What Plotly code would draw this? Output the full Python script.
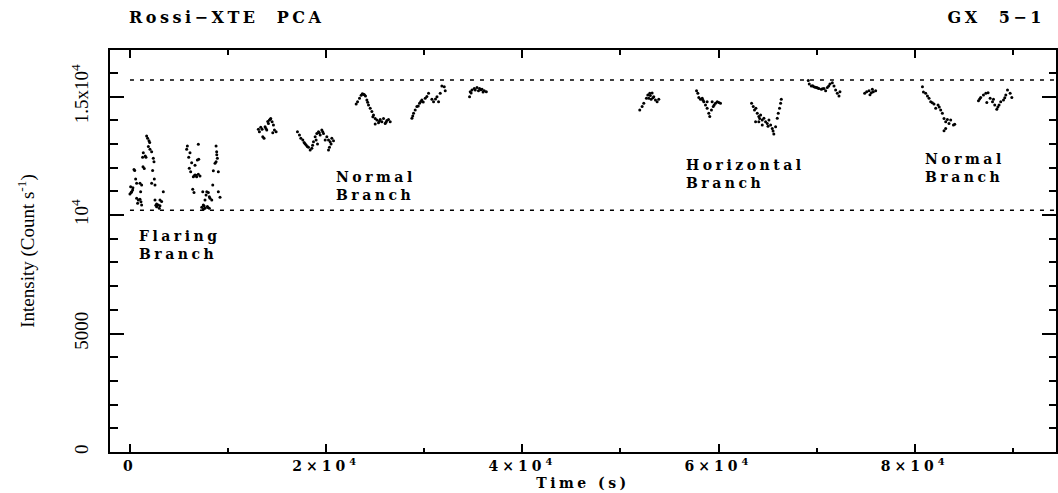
import plotly.graph_objects as go

# ---------------- data (time in s, intensity in counts/s) ----------------
fb1_t = [1700, 1800, 1940, 2010, 1360, 1630, 1290, 2040, 2210, 2380, 2450, 1330, 1460, 410, 480, 2310,
         580, 680, 1020, 1190, 70, 270, 170, 0, 1090, 2210, 2550, 680, 850, 1020, 780, 1190, 2550, 2720,
         2890, 3060, 3230, 3400, 2990, 2720, 3060, 2480, 1560, 1880, 300, 120, 1120, 2640]
fb1_r = [13340, 13240, 13140, 13060, 12630, 12440, 12440, 12780, 12680, 12400, 12250, 12040, 11970, 11930, 11880, 11880,
         11520, 11340, 11340, 11270, 11200, 11060, 10990, 10890, 10990, 11340, 11270, 10710, 10640, 10670, 10500, 10430, 10640, 10350,
         10430, 10640, 10570, 10990, 10290, 10470, 10390, 11520, 12500, 12900, 11150, 10950, 10560, 10420]

fb2_t = [5850, 5780, 6970, 6120, 5990, 6290, 6870, 7010, 6050, 6190, 6630, 6630, 6800, 6970, 7140, 6460,
         8780, 8840, 8910, 8780, 8670, 8500, 9010, 6400, 6530, 7420, 7830, 7990, 7760, 8090, 8160, 7650,
         7480, 7320, 7650, 7890, 8090, 7480, 8440, 9010, 9180, 8340, 6720, 6560, 8850, 7560, 7950]
fb2_r = [12920, 12780, 12990, 12630, 12440, 12210, 12330, 12360, 11980, 11830, 12110, 11690, 11620, 11730, 11650, 11620,
         12920, 12680, 12400, 12250, 12190, 11870, 11830, 11090, 10950, 10990, 10990, 10950, 10850, 10780, 10710, 10640,
         10430, 10330, 10290, 10360, 10290, 10250, 11270, 10990, 10750, 10640, 11680, 11660, 12550, 10380, 10320]

nb1_t = [13090, 13195, 13335, 13470, 13540, 13670, 13775, 13945, 14115, 14220, 14355, 14490, 14625, 14730, 14900, 14560,
         14050, 14300, 13860]
nb1_r = [13620, 13520, 13710, 13620, 13310, 13240, 13730, 13590, 13870, 14010, 14080, 13940, 13800, 13590, 13520, 13480,
         13950, 14050, 13660]

nb2_t = [17075, 17280, 17420, 17620, 17755, 17960, 18200, 18370, 18540, 18710, 18880, 19050, 19220, 19390, 19560, 19730,
         19900, 20070, 20240, 20410, 20340, 20580, 20750, 20240, 18980, 19120, 17850, 18080, 18620, 19300, 19650, 20500]
nb2_r = [13520, 13380, 13240, 13170, 13060, 12960, 12860, 12750, 12820, 13100, 13310, 13450, 13520, 13380, 13590, 13450,
         13170, 13310, 13170, 13100, 12860, 13240, 13140, 12750, 13170, 13000, 13010, 12900, 12950, 13480, 13520, 13000]

nb3_t = [23060, 23200, 23400, 23570, 23810, 24010, 24150, 24320, 24490, 24660, 24830, 25000, 25170, 25340, 25510, 25680,
         25850, 26020, 26190, 26360, 26530, 25000, 24760, 23690, 23900, 24230, 25420, 26100]
nb3_r = [14690, 14790, 14930, 15060, 15100, 15030, 14860, 14650, 14510, 14370, 14230, 14080, 14010, 13900, 14040, 13940,
         14080, 13870, 13990, 14040, 13940, 13850, 14150, 15120, 15080, 14760, 13960, 13920]

nb4_t = [28745, 28910, 29080, 29250, 29520, 29760, 30100, 30440, 30780, 30950, 31300, 31460, 31630, 31800, 32040, 32140,
         29390, 29900, 28830, 29650, 30270, 31150]
nb4_r = [14090, 14300, 14440, 14580, 14720, 14860, 14930, 15140, 14890, 14790, 15000, 14790, 15140, 15450, 15420, 15250,
         14610, 14770, 14180, 14800, 15010, 14900]

nb5_t = [34620, 34690, 34870, 35100, 35380, 35640, 35890, 36120, 36330, 35530, 35200, 34780, 35760, 36000]
nb5_r = [15000, 15210, 15280, 15350, 15390, 15350, 15310, 15250, 15210, 15250, 15280, 15150, 15290, 15200]

hb1_t = [51970, 52210, 52380, 52650, 52790, 52990, 53230, 53400, 53570, 53740, 53910, 53130, 52890, 53050, 53320]
hb1_r = [14440, 14580, 14720, 14930, 15070, 15140, 15160, 15000, 14860, 14790, 14890, 14890, 14930, 15050, 14950]

hb2_t = [57760, 57890, 57990, 58160, 58340, 58500, 58670, 58840, 59010, 59110, 59280, 59460, 59690, 59870, 60030, 60200,
         59350, 58840, 58420, 59560]
hb2_r = [15250, 15140, 14970, 14890, 14930, 14790, 14650, 14510, 14300, 14160, 14440, 14580, 14720, 14790, 14750, 14720,
         14790, 14790, 14850, 14650]

hb3_t = [63370, 63540, 63670, 63810, 63950, 64110, 64290, 64460, 63780, 64630, 64800, 64970, 65140, 65310, 65480, 65640,
         65820, 65990, 66090, 66220, 66330, 66400, 64110, 64460, 65050, 65560, 64200]
hb3_r = [14720, 14580, 14440, 14510, 14300, 14160, 14230, 14010, 13940, 14090, 13940, 13870, 14010, 13800, 13660, 13420,
         13730, 14090, 14300, 14510, 14720, 14890, 13940, 13800, 13750, 13550, 14080]

hb4_t = [69150, 69250, 69460, 69720, 70000, 70230, 70480, 70750, 70920, 71090, 71360, 71600, 71770, 71940, 72110, 72280,
         72380, 69600, 69860, 70120, 70600, 71230]
hb4_r = [15680, 15530, 15450, 15420, 15390, 15350, 15310, 15350, 15250, 15390, 15530, 15590, 15450, 15280, 15140, 15030,
         15210, 15460, 15400, 15370, 15330, 15450]

hb5_t = [74900, 75100, 75340, 75580, 75780, 76020, 75440, 75680]
hb5_r = [15140, 15210, 15250, 15170, 15210, 15250, 15080, 15310]

nb6_t = [80790, 80890, 81120, 81460, 81630, 81970, 82140, 82380, 82650, 82820, 82990, 83160, 83330, 83500, 83670, 83950,
         83160, 82990, 84080, 81300, 81800, 82500]
nb6_r = [15420, 15200, 15140, 14930, 14790, 14690, 14510, 14650, 14440, 14300, 14080, 13940, 14040, 13870, 14010, 13800,
         13660, 13560, 13840, 15030, 14740, 14560]

nb7_t = [86500, 86730, 87010, 87250, 87480, 87690, 87930, 88160, 88370, 88600, 88770, 89050, 89290, 89460, 89730, 89900,
         87350, 88030, 86620, 88480, 89180]
nb7_r = [14830, 14970, 15070, 15140, 15170, 14930, 14790, 14650, 14470, 14650, 14790, 14860, 15070, 15280, 15140, 14970,
         14750, 14890, 14900, 14560, 14950]

levels = [10200, 15700]          # dotted reference levels

x_tickvals = [0, 20000, 40000, 60000, 80000]
x_ticktext = ["0", "2×10<sup>4</sup>", "4×10<sup>4</sup>", "6×10<sup>4</sup>", "8×10<sup>4</sup>"]
x_minor = [10000, 30000, 50000, 70000, 90000]
y_tickvals = [0, 5000, 10000, 15000]
y_ticktext = ["0", "5000", "10<sup>4</sup>", "1.5x10<sup>4</sup>"]

segments_t = [fb1_t, fb2_t, nb1_t, nb2_t, nb3_t, nb4_t, nb5_t, hb1_t, hb2_t, hb3_t, hb4_t, hb5_t, nb6_t, nb7_t]
segments_r = [fb1_r, fb2_r, nb1_r, nb2_r, nb3_r, nb4_r, nb5_r, hb1_r, hb2_r, hb3_r, hb4_r, hb5_r, nb6_r, nb7_r]
all_t = [v for s in segments_t for v in s]
all_r = [v for s in segments_r for v in s]

XR = [-2035, 94405]
YR = [0, 16970]

AXF = dict(family="DejaVu Serif", size=14, color="black", weight="bold")
LBL = dict(family="DejaVu Serif", size=14, color="black", weight="bold")
TITLE = dict(family="DejaVu Serif", size=16, color="black", weight="bold")

fig = go.Figure()
fig.add_trace(go.Scatter(x=all_t, y=all_r, mode="markers",
                         marker=dict(color="black", size=3, symbol="circle"),
                         hoverinfo="skip", showlegend=False))

for lv in levels:
    fig.add_shape(type="line", xref="x", yref="y", x0=0, x1=XR[1], y0=lv, y1=lv,
                  line=dict(color="black", width=1.5, dash="4px,6px"))

fig.update_layout(
    width=1058, height=493,
    margin=dict(l=110, r=0, t=50, b=41),
    paper_bgcolor="white", plot_bgcolor="white",
    showlegend=False,
    xaxis=dict(range=XR, tickmode="array", tickvals=x_tickvals, ticktext=x_ticktext,
               ticks="inside", ticklen=8, tickwidth=2, tickcolor="black",
               minor=dict(tickmode="array", tickvals=x_minor, ticks="inside", ticklen=4.5,
                          tickwidth=1.5, tickcolor="black", showgrid=False),
               showline=True, linewidth=2, linecolor="black", mirror="ticks",
               showgrid=False, zeroline=False, tickfont=AXF,
               title=dict(text="Time (s)", font=AXF, standoff=5)),
    yaxis=dict(range=YR, tickmode="array", tickvals=y_tickvals, ticktext=y_ticktext,
               tickangle=-90,
               ticks="inside", ticklen=14, tickwidth=2, tickcolor="black",
               minor=dict(dtick=1000, ticks="inside", ticklen=7.5, tickwidth=1.5,
                          tickcolor="black", showgrid=False),
               showline=True, linewidth=2, linecolor="black", mirror="ticks",
               showgrid=False, zeroline=False,
               tickfont=dict(family="Liberation Serif", size=19, color="black"),
               ticklabelstandoff=12,
               title=dict(text="Intensity (Count s<sup>-1</sup>)",
                          font=dict(family="Liberation Serif", size=19, color="black"),
                          standoff=29)),
)

fig.add_annotation(text="Rossi−XTE  PCA", xref="paper", yref="paper",
                   x=(127 - 110) / 948, y=(452 - 18) / 402, xanchor="left", yanchor="middle",
                   align="left", showarrow=False, font=TITLE)
fig.add_annotation(text="GX  5−1", xref="paper", yref="paper",
                   x=(1049 - 110) / 948, y=(452 - 18) / 402, xanchor="right", yanchor="middle",
                   align="right", showarrow=False, font=TITLE)

labels = [
    ("Flaring<br>Branch", 714, 8720),
    ("Normal<br>Branch", 20820, 11230),
    ("Horizontal<br>Branch", 56430, 11750),
    ("Normal<br>Branch", 80820, 12000),
]
for txt, lx, ly in labels:
    fig.add_annotation(text=txt, x=lx, y=ly, xref="x", yref="y", xanchor="left", yanchor="middle",
                       align="left", showarrow=False, font=LBL)

post = """
var gd = document.getElementById('{plot_id}');
function spacing(){
  gd.querySelectorAll('.annotation-text').forEach(function(e){ e.style.letterSpacing = '3.5px'; });
  gd.querySelectorAll('.xtick text').forEach(function(e){ e.style.letterSpacing = '4px'; });
  gd.querySelectorAll('.xtitle').forEach(function(e){ e.style.letterSpacing = '3.5px'; });
}
spacing();
gd.on('plotly_afterplot', spacing);
"""

fig.write_html("out.html", post_script=post)
